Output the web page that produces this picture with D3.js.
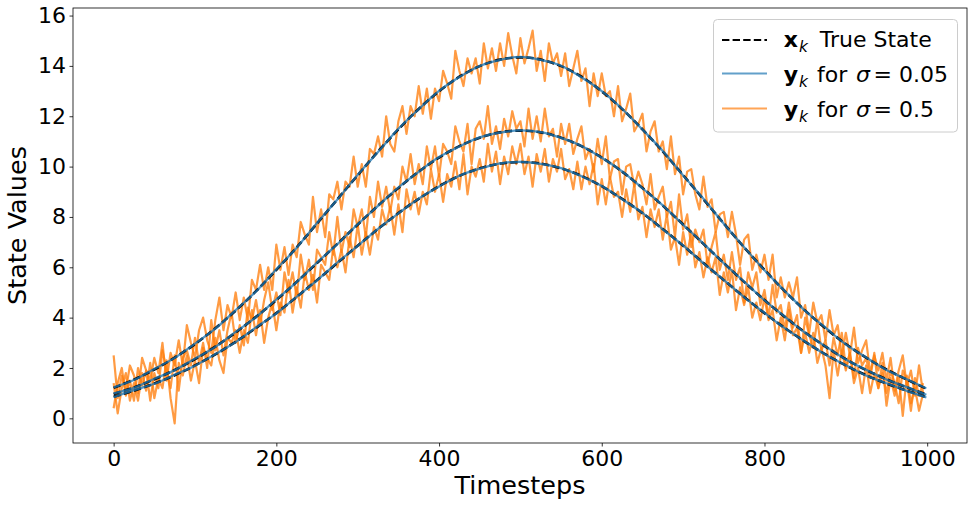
<!DOCTYPE html>
<html>
<head>
<meta charset="utf-8">
<script src="https://cdn.jsdelivr.net/npm/d3@7"></script>
<style>
  html, body { margin: 0; padding: 0; background: #ffffff; }
  svg text { font-family: 'DejaVu Sans', sans-serif; fill: #000; }
</style>
</head>
<body>
<svg id="chart" width="972" height="507"></svg>
<script>
// ---------- DATA ----------
const xTicks = [0, 200, 400, 600, 800, 1000];
const yTicks = [0, 2, 4, 6, 8, 10, 12, 14, 16];

// timesteps of the smooth (true / low-noise) curves
const smoothSteps = d3.range(0, 976, 25).concat([999]);
// timesteps of the noisy (sigma = 0.5) observations
const noisySteps = d3.range(0, 1000, 5);

const trueTop = [1.21,1.54,1.94,2.41,2.95,3.58,4.28,5.05,5.90,6.79,7.74,8.70,9.66,10.60,11.48,12.29,12.99,13.57,13.99,14.25,14.34,14.25,13.99,13.57,12.99,12.29,11.48,10.60,9.66,8.70,7.74,6.79,5.90,5.05,4.28,3.58,2.95,2.41,1.94,1.54,1.18];
const trueMid = [0.97,1.23,1.55,1.92,2.35,2.85,3.41,4.03,4.70,5.42,6.17,6.93,7.70,8.45,9.15,9.80,10.36,10.81,11.15,11.36,11.43,11.36,11.15,10.81,10.36,9.80,9.15,8.45,7.70,6.93,6.17,5.42,4.70,4.03,3.41,2.85,2.35,1.92,1.55,1.23,0.95];
const trueBot = [0.86,1.10,1.38,1.71,2.10,2.54,3.04,3.59,4.18,4.82,5.49,6.17,6.86,7.52,8.15,8.72,9.22,9.63,9.93,10.12,10.18,10.12,9.93,9.63,9.22,8.72,8.15,7.52,6.86,6.17,5.49,4.82,4.18,3.59,3.04,2.54,2.10,1.71,1.38,1.10,0.84];

const blueTop = [1.23,1.52,1.96,2.40,2.97,3.56,4.30,5.04,5.92,6.78,7.76,8.69,9.67,10.58,11.50,12.28,13.01,13.56,14.00,14.24,14.36,14.24,14.01,13.55,13.00,12.30,11.47,10.62,9.65,8.72,7.73,6.80,5.88,5.06,4.27,3.60,2.94,2.42,1.92,1.55,1.19];
const blueMid = [0.99,1.21,1.57,1.91,2.37,2.84,3.43,4.02,4.72,5.41,6.19,6.92,7.71,8.44,9.17,9.79,10.38,10.80,11.16,11.35,11.44,11.37,11.14,10.82,10.35,9.81,9.14,8.46,7.69,6.94,6.16,5.43,4.69,4.04,3.40,2.86,2.34,1.93,1.54,1.24,0.94];
const blueBot = [0.84,1.12,1.37,1.73,2.09,2.55,3.03,3.61,4.17,4.83,5.48,6.19,6.85,7.53,8.14,8.73,9.21,9.64,9.92,10.13,10.19,10.11,9.94,9.62,9.23,8.71,8.16,7.51,6.87,6.16,5.50,4.81,4.19,3.58,3.05,2.53,2.11,1.70,1.39,1.09,0.83];

const orangeTop = [2.5,0.8,1.7,1.1,2.1,1.7,1.0,2.4,1.9,1.5,2.4,1.8,3.0,1.5,2.6,2.1,3.1,2.1,3.7,3.0,
2.4,3.5,4.0,3.1,2.6,3.9,4.8,3.5,4.5,4.0,5.0,3.9,4.8,3.9,5.5,5.1,6.1,5.1,6.0,5.1,
6.9,5.9,6.8,5.7,6.9,6.4,7.8,7.3,6.9,8.8,7.4,8.3,7.2,8.9,8.7,9.4,8.3,9.4,9.2,10.4,
9.2,10.1,9.2,10.7,10.5,11.2,10.4,12.0,10.9,10.6,11.8,12.4,11.3,12.4,12.0,13.2,12.1,13.1,11.9,13.1,
12.6,13.8,13.3,12.7,14.6,13.8,13.2,14.3,13.7,14.3,13.3,14.9,13.9,14.7,13.8,14.9,14.0,15.3,14.4,13.7,
15.1,14.1,14.7,15.4,13.8,14.6,13.4,14.9,14.1,14.5,13.6,14.5,13.2,13.9,14.6,13.4,13.9,12.4,13.7,12.8,
13.7,12.8,13.0,12.0,13.2,11.8,12.3,12.9,11.4,11.7,12.1,10.6,11.4,11.8,10.6,11.0,9.9,11.2,9.7,10.4,
8.9,9.8,9.9,8.9,8.3,9.6,8.4,8.7,7.4,8.1,8.2,7.2,8.2,7.3,6.1,7.1,7.3,5.9,6.5,5.8,
6.5,5.5,6.5,4.8,5.6,4.8,5.4,4.8,5.6,4.0,4.5,3.4,4.6,3.8,4.1,3.1,4.3,3.3,3.7,2.5,
3.4,2.5,3.6,2.2,2.7,3.1,1.8,2.5,1.9,2.6,1.5,2.4,1.1,1.9,2.5,1.3,1.9,0.9,2.1,1.0];
const orangeMid = [0.4,1.4,2.0,0.9,1.5,0.7,2.0,1.3,1.9,0.7,1.8,1.2,2.7,1.9,1.2,2.5,1.1,2.4,2.7,2.1,
3.2,2.2,3.0,2.0,3.9,2.7,3.5,2.5,3.5,4.2,3.0,3.7,2.9,4.4,3.9,4.7,3.7,4.7,5.4,4.3,
5.0,4.1,5.8,5.0,5.8,4.8,6.5,5.5,6.3,5.1,6.7,6.4,6.1,7.4,6.5,8.0,6.6,7.4,6.8,8.3,
7.6,8.3,7.2,8.8,8.0,9.4,8.4,9.2,8.2,9.2,8.7,10.0,9.4,10.5,9.3,10.1,9.3,10.8,9.9,10.8,
9.6,10.9,10.6,10.1,11.6,11.0,10.6,11.7,10.1,11.5,11.8,11.1,12.4,10.9,11.6,10.7,11.9,11.2,12.2,11.5,
11.8,10.8,12.3,11.1,12.0,11.0,12.3,11.2,11.5,10.4,11.7,10.9,11.7,10.5,11.1,11.6,10.3,10.7,9.8,11.1,
10.1,11.2,9.5,10.2,10.3,8.9,10.0,10.1,9.2,9.8,9.3,8.5,9.7,8.3,8.8,9.2,8.0,8.6,7.2,8.9,
7.5,8.1,6.8,7.5,7.0,7.5,6.1,6.8,7.4,5.9,6.5,5.5,6.6,5.5,6.0,4.6,5.8,5.2,5.8,4.5,
5.1,4.0,5.3,4.2,4.5,3.5,4.6,3.6,4.1,2.6,4.0,3.3,2.8,3.9,2.7,3.1,2.1,3.2,2.5,3.4,
2.0,2.6,1.6,2.8,2.1,2.4,1.6,2.6,1.2,1.8,1.0,1.9,1.4,0.6,1.9,1.5,0.3,1.6,0.9,1.4];
const orangeBot = [1.4,0.2,1.2,1.8,0.7,1.4,0.7,1.8,1.1,2.2,0.8,1.6,1.2,2.3,0.8,-0.2,2.2,1.7,2.5,1.5,
2.3,1.4,2.8,2.4,2.1,3.2,2.3,1.8,3.2,3.0,3.5,2.6,3.5,3.0,4.3,3.3,4.3,3.0,4.0,4.6,
3.5,4.6,4.2,5.5,4.2,5.2,4.4,5.8,5.1,5.7,4.6,6.1,5.8,5.5,6.8,6.0,6.7,5.8,7.2,6.4,
7.7,6.5,7.4,6.5,7.6,7.1,8.3,7.7,8.4,7.3,8.5,7.4,9.1,8.3,9.0,8.1,9.0,8.5,9.9,9.0,
9.7,8.6,9.7,9.2,10.2,9.1,10.5,8.9,10.0,9.6,10.3,9.4,10.9,9.8,10.6,9.3,10.4,9.7,10.8,10.1,
10.9,9.7,10.4,9.2,10.5,9.8,10.7,9.4,10.3,9.8,10.7,9.5,9.9,9.1,10.2,9.1,10.0,9.3,10.1,8.5,
9.5,8.5,9.6,8.8,9.0,8.0,9.1,8.2,9.3,7.9,8.4,7.2,8.3,7.6,8.3,7.1,8.1,6.7,7.2,6.1,
7.4,6.5,7.4,6.0,6.6,5.6,6.4,5.8,6.4,4.9,5.8,5.0,5.9,4.3,5.2,4.5,5.2,4.0,4.6,3.9,
4.8,3.9,4.3,3.1,4.0,3.1,4.3,3.3,3.6,2.6,3.4,2.6,3.4,2.2,2.8,2.1,0.8,2.7,1.7,2.7,
1.9,2.6,1.4,2.0,1.0,2.1,1.0,1.8,1.2,2.2,0.5,1.6,0.9,1.7,0.1,1.7,0.6,1.2,0.3,1.0];

const legendLabels = ["True State", "for", "0.05", "0.5"];

// ---------- LAYOUT ----------
const W = 972, H = 507;
const plot = { left: 73, right: 967, top: 8, bottom: 443 };
const svg = d3.select("#chart");
svg.append("rect").attr("width", W).attr("height", H).attr("fill", "#ffffff");

const x = d3.scaleLinear().domain([-49.95, 1048.95]).range([plot.left, plot.right]);
const y = d3.scaleLinear().domain([-0.98, 16.3]).range([plot.bottom, plot.top]);

const COL_BLUE = "#1f77b4", COL_ORANGE = "#ff7f0e";

svg.append("clipPath").attr("id", "clip").append("rect")
  .attr("x", plot.left).attr("y", plot.top)
  .attr("width", plot.right - plot.left).attr("height", plot.bottom - plot.top);
const g = svg.append("g").attr("clip-path", "url(#clip)");

const lineLin = d3.line().x(d => x(d[0])).y(d => y(d[1]));
const lineSmooth = d3.line().x(d => x(d[0])).y(d => y(d[1])).curve(d3.curveCatmullRom);

const pair = (ts, vs) => ts.map((t, i) => [t, vs[i]]);

// noisy observations
[orangeTop, orangeMid, orangeBot].forEach(s => {
  g.append("path").datum(pair(noisySteps, s)).attr("d", lineLin)
    .attr("fill", "none").attr("stroke", COL_ORANGE).attr("stroke-width", 2.2)
    .attr("stroke-opacity", 0.78).attr("stroke-linejoin", "round");
});
// true state
[trueTop, trueMid, trueBot].forEach(s => {
  g.append("path").datum(pair(smoothSteps, s)).attr("d", lineSmooth)
    .attr("fill", "none").attr("stroke", "#000").attr("stroke-width", 2.6)
    .attr("stroke-dasharray", "7.4,3.2");
});
// low noise observations
[blueTop, blueMid, blueBot].forEach(s => {
  g.append("path").datum(pair(smoothSteps, s)).attr("d", lineSmooth)
    .attr("fill", "none").attr("stroke", COL_BLUE).attr("stroke-width", 2.2)
    .attr("stroke-opacity", 0.78);
});

// ---------- AXES ----------
const xAxis = svg.append("g").attr("transform", `translate(0,${plot.bottom})`)
  .call(d3.axisBottom(x).tickValues(xTicks).tickFormat(d3.format("d")).tickSize(3.5).tickPadding(3.5));
const yAxis = svg.append("g").attr("transform", `translate(${plot.left},0)`)
  .call(d3.axisLeft(y).tickValues(yTicks).tickFormat(d3.format("d")).tickSize(3.5).tickPadding(3.5));
[xAxis, yAxis].forEach(a => {
  a.select(".domain").remove();
  a.selectAll(".tick line").attr("stroke", "#000").attr("stroke-width", 0.8);
  a.selectAll(".tick text").attr("font-family", "'DejaVu Sans', sans-serif")
    .attr("font-size", 22).attr("fill", "#000");
});

svg.append("rect")
  .attr("x", plot.left).attr("y", plot.top)
  .attr("width", plot.right - plot.left).attr("height", plot.bottom - plot.top)
  .attr("fill", "none").attr("stroke", "#000").attr("stroke-width", 0.8);

svg.append("text").attr("x", (plot.left + plot.right) / 2).attr("y", 494)
  .attr("text-anchor", "middle").attr("font-size", 25.5).text("Timesteps");
svg.append("text").attr("transform", `translate(26,${(plot.top + plot.bottom) / 2}) rotate(-90)`)
  .attr("text-anchor", "middle").attr("font-size", 25.5).text("State Values");

// ---------- LEGEND ----------
const lg = svg.append("g");
lg.append("rect").attr("x", 713.5).attr("y", 19.5).attr("width", 244).attr("height", 112.5)
  .attr("rx", 4).attr("fill", "#ffffff").attr("fill-opacity", 0.8)
  .attr("stroke", "#cccccc").attr("stroke-width", 1);

const rows = [
  { y: 40, stroke: "#000", dash: "7.4,3.2", op: 1, w: 2 },
  { y: 73.5, stroke: COL_BLUE, dash: null, op: 0.7, w: 2 },
  { y: 108.5, stroke: COL_ORANGE, dash: null, op: 0.7, w: 2 }
];
rows.forEach(r => {
  lg.append("line").attr("x1", 722).attr("x2", 767).attr("y1", r.y).attr("y2", r.y)
    .attr("stroke", r.stroke).attr("stroke-width", r.w).attr("stroke-opacity", r.op)
    .attr("stroke-dasharray", r.dash);
});

const FS = 22;
function legendEntry(baseY, letter) {
  const t = lg.append("text").attr("x", 783.7).attr("y", baseY).attr("font-size", FS);
  t.append("tspan").attr("font-weight", "bold").text(letter);
  t.append("tspan").attr("x", 799).attr("dy", 5).attr("font-style", "italic")
    .attr("font-size", FS * 0.7).text("k");
  return t;
}
const t1 = legendEntry(47, "x");
t1.append("tspan").attr("x", 819.8).attr("dy", -5).text(legendLabels[0]);

[[81.5, legendLabels[2]], [116.5, legendLabels[3]]].forEach(([by, val]) => {
  const t = legendEntry(by, "y");
  t.append("tspan").attr("x", 817).attr("dy", -5).text(legendLabels[1]);
  t.append("tspan").attr("x", 856).attr("font-style", "italic").text("σ");
  t.append("tspan").attr("x", 873.5).text("=");
  t.append("tspan").attr("x", 899).text(val);
});
</script>
</body>
</html>
